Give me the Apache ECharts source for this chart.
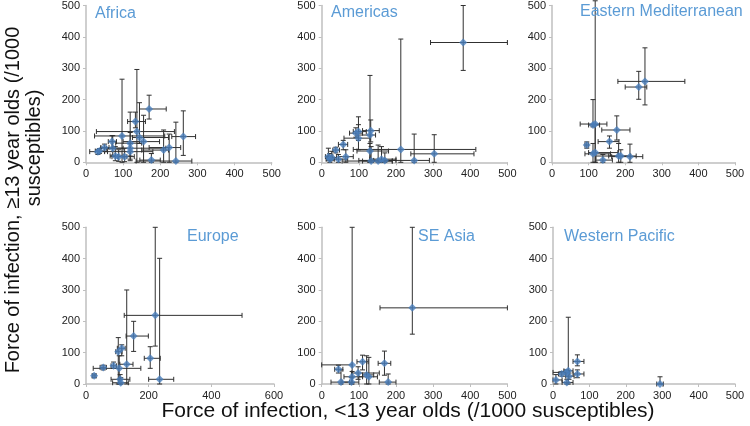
<!DOCTYPE html>
<html><head><meta charset="utf-8">
<script src="https://cdn.jsdelivr.net/npm/echarts@6/dist/echarts.min.js"></script>
<style>html,body{margin:0;padding:0;background:#fff}#c{width:750px;height:426px}</style>
</head><body><div id="c"></div>
<script>
// Each row: [x, y, xLow, xHigh, yLow, yHigh]
const africa = [
  [170,170,144,216,138,214],[133,130,112,160,110,160],[137,98,28,238,0,296],[97,84,23,212,0,265],
  [144,79,125,222,60,190],[155,66,100,198,0,150],[119,61,80,150,20,160],[70,66,60,82,45,85],
  [72,45,55,100,20,85],[50,47,40,62,35,58],[32,34,10,58,25,40],[36,36,25,50,28,44],
  [119,45,40,215,10,95],[119,34,50,180,5,60],[79,20,65,100,5,50],[88,18,70,110,3,40],
  [104,18,85,130,2,45],[176,7,145,200,0,28],[209,39,150,222,0,103],[224,47,170,255,0,90],
  [242,4,135,285,0,128],[262,82,231,295,22,164]
];
const americas = [
  [381,382,293,500,293,500],[213,41,85,415,0,393],[303,27,240,410,0,88],[249,6,100,290,0,90],
  [132,101,110,155,65,135],[130,87,95,145,0,277],[92,93,75,110,80,110],[99,98,85,120,70,145],
  [99,77,60,130,40,120],[130,36,95,180,0,60],[133,4,55,190,0,50],[152,4,110,190,0,55],
  [161,10,130,200,0,50],[170,6,140,200,0,30],[58,57,45,70,40,70],[38,39,30,48,30,48],
  [65,18,45,85,0,40],[45,10,25,70,0,25],[18,18,10,30,5,45],[22,10,12,35,0,28],[27,15,15,40,5,35]
];
const easternMed = [
  [254,258,180,363,183,365],[237,240,200,259,201,290],[118,122,77,150,0,515],[112,119,100,130,113,200],
  [177,103,136,213,71,148],[95,55,90,100,45,65],[157,66,126,183,45,84],[112,27,90,160,0,60],
  [118,31,100,180,0,120],[139,7,120,165,0,25],[182,20,155,215,0,60],[188,20,120,230,0,40],
  [213,18,163,248,0,58]
];
const europe = [
  [221,219,122,498,121,500],[235,15,200,280,0,401],[152,153,128,199,104,200],[205,82,186,237,50,119],
  [130,63,108,150,0,300],[114,114,100,125,90,125],[103,103,95,115,0,148],[106,50,23,175,0,90],
  [88,58,80,97,50,70],[55,53,45,65,45,60],[26,26,20,32,20,32],[109,15,80,140,0,30],[111,4,85,135,0,20]
];
const seAsia = [
  [244,243,157,500,159,500],[82,61,0,82,0,500],[110,71,95,125,45,92],[169,66,152,186,28,105],
  [45,47,35,57,35,60],[98,35,80,155,15,55],[82,23,60,110,5,40],[52,6,25,75,0,45],
  [80,6,55,100,0,20],[121,29,110,140,0,90],[127,23,100,150,0,85],[179,6,155,200,0,32]
];
const westernPacific = [
  [67,72,55,85,58,93],[294,0,285,303,0,23],[42,42,30,55,0,213],[36,37,0,45,25,45],
  [24,32,15,35,25,40],[67,32,55,85,20,45],[44,25,35,58,15,35],[8,13,0,25,0,30],[38,5,25,55,0,15]
];
const regionNames = ['Africa','Americas','Eastern Mediterranean','Europe','SE Asia','Western Pacific'];
const regionData = [africa, americas, easternMed, europe, seAsia, westernPacific];
const xMax = [500,500,500,600,500,500];
const xInterval = [100,100,100,200,100,100];
const yMax = 500, yInterval = 100;
const xTitle = 'Force of infection, <13 year olds (/1000 susceptibles)';
const yTitle1 = 'Force of infection, \u226513 year olds (/1000';
const yTitle2 = 'susceptibles)';

// layout
const grids = [
  {left:86, top:5.5, width:185.7, height:156.8},
  {left:321.7, top:5.5, width:185.7, height:156.8},
  {left:552, top:5.5, width:183, height:156.8},
  {left:86, top:227.3, width:188, height:156.7},
  {left:321.7, top:227.3, width:185.7, height:156.7},
  {left:553, top:227.3, width:182, height:156.7}
];
const titlePos = [[95,6],[331,5],[580,4],[187,229],[418,229],[564,229]];

const FONT = '"Liberation Sans", Arial, sans-serif';
const axisLine = {lineStyle:{color:'#BFBFBF', width:1.5}};
const axisTick = {show:true, length:3, lineStyle:{color:'#BFBFBF'}};
const axisLabel = {fontSize:11, color:'#222', fontFamily:FONT, margin:6};

function errRender(params, api){
  const x=api.value(0), y=api.value(1);
  const p=api.coord([x,y]);
  const l=api.coord([api.value(2),y]), r=api.coord([api.value(3),y]);
  const b=api.coord([x,api.value(4)]), t=api.coord([x,api.value(5)]);
  const c=2.5;
  const st={stroke:'#303030', lineWidth:1};
  const ln=(x1,y1,x2,y2)=>({type:'line', shape:{x1,y1,x2,y2}, style:st});
  return {type:'group', children:[
    ln(l[0],p[1],r[0],p[1]), ln(l[0],p[1]-c,l[0],p[1]+c), ln(r[0],p[1]-c,r[0],p[1]+c),
    ln(p[0],b[1],p[0],t[1]), ln(p[0]-c,b[1],p[0]+c,b[1]), ln(p[0]-c,t[1],p[0]+c,t[1])
  ]};
}

const series = [];
regionData.forEach((d,i)=>{
  series.push({type:'custom', xAxisIndex:i, yAxisIndex:i, renderItem:errRender, data:d, encode:{x:0,y:1}, clip:false, z:2, silent:true});
  series.push({type:'scatter', xAxisIndex:i, yAxisIndex:i, data:d.map(r=>[r[0],r[1]]), symbol:'diamond', symbolSize:8,
    itemStyle:{color:'#4A7EBB'}, z:3, silent:true});
});

const option = {
  animation:false,
  backgroundColor:'#fff',
  textStyle:{fontFamily:FONT},
  title: regionNames.map((n,i)=>({text:n, left:titlePos[i][0], top:titlePos[i][1], padding:0,
    textStyle:{color:'#5B9BD5', fontSize:16, fontWeight:'normal', fontFamily:FONT}})),
  grid: grids,
  xAxis: grids.map((g,i)=>({type:'value', gridIndex:i, min:0, max:xMax[i], interval:xInterval[i],
    axisLine, axisTick, axisLabel, splitLine:{show:false}})),
  yAxis: grids.map((g,i)=>({type:'value', gridIndex:i, min:0, max:yMax, interval:yInterval,
    axisLine:{show:true, lineStyle:{color:'#BFBFBF', width:1.5}}, axisTick, axisLabel, splitLine:{show:false}})),
  series,
  graphic:[
    {type:'text', x:408, y:411, style:{text:xTitle, fontSize:21, fill:'#111', fontFamily:FONT, align:'center', verticalAlign:'middle'}},
    {type:'text', x:13, y:200, rotation:Math.PI/2, style:{text:yTitle1, fontSize:20, fill:'#111', fontFamily:FONT, align:'center', verticalAlign:'middle'}},
    {type:'text', x:34, y:148, rotation:Math.PI/2, style:{text:yTitle2, fontSize:20, fill:'#111', fontFamily:FONT, align:'center', verticalAlign:'middle'}}
  ]
};
const chart = echarts.init(document.getElementById('c'), null, {renderer:'canvas'});
chart.setOption(option);
</script></body></html>
